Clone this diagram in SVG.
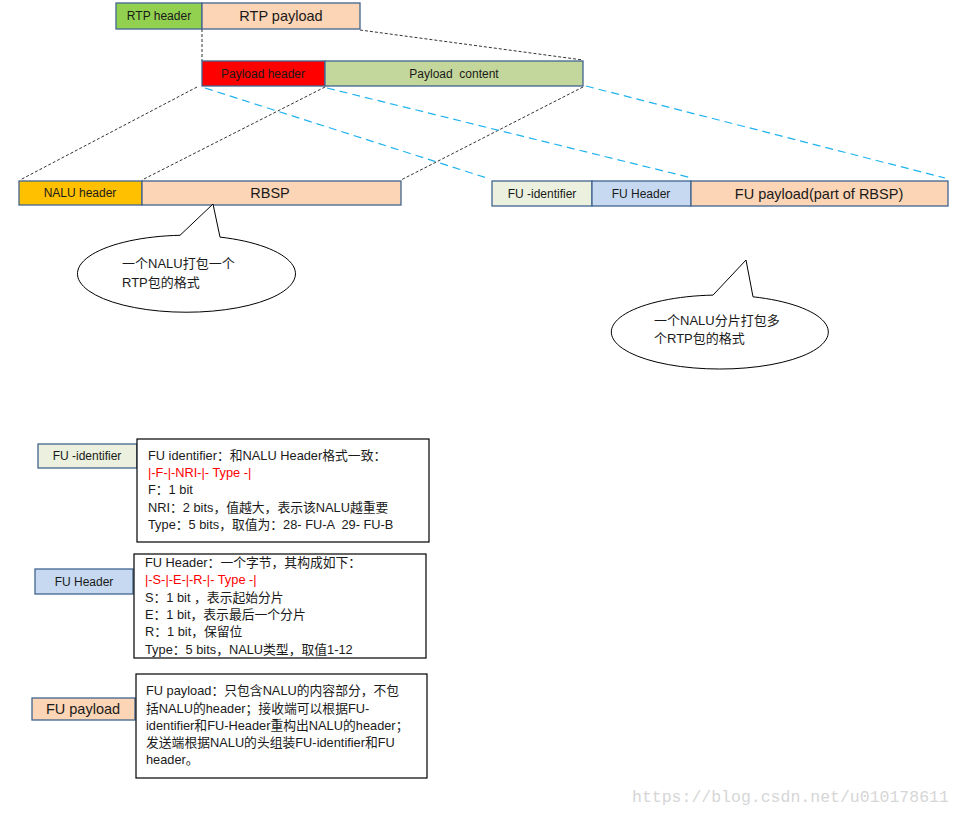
<svg xmlns="http://www.w3.org/2000/svg" width="962" height="816" viewBox="0 0 962 816">
<style>
.bx{stroke:#41658F;stroke-width:1.3}
.t{font-family:"Liberation Sans","Noto Sans CJK SC",sans-serif;fill:#1a1a1a}
.c{text-anchor:middle}
.s12{font-size:12px}
.n{font-size:12.8px;white-space:pre}
.s15{font-size:14.5px}
.red{fill:#FF0000}
.dk{fill:none;stroke:#333;stroke-width:1;stroke-dasharray:3,2}
.bl{fill:none;stroke:#1FB3EE;stroke-width:1.2;stroke-dasharray:8,5}
.note{fill:#fff;stroke:#000;stroke-width:1.2}
.call{fill:#fff;stroke:#000;stroke-width:1}
</style>
<rect width="962" height="816" fill="#fff"/>
<g id="connectors">
<line class="dk" x1="202" y1="29" x2="202" y2="61"/>
<line class="dk" x1="360" y1="30" x2="583" y2="60"/>
<line class="dk" x1="197" y1="87" x2="20" y2="180"/>
<line class="dk" x1="325" y1="87" x2="142" y2="180"/>
<line class="dk" x1="583" y1="87" x2="401" y2="180"/>
<line class="bl" x1="205" y1="88" x2="490" y2="179"/>
<line class="bl" x1="327" y1="88" x2="692" y2="178"/>
<line class="bl" x1="586" y1="86" x2="945" y2="178"/>
</g>
<g id="rtp">
<rect class="bx" x="116" y="3" width="86" height="26" fill="#92D050"/>
<text class="t c s12" x="159" y="20">RTP header</text>
<rect class="bx" x="202" y="3" width="158" height="26" fill="#FBD5B5"/>
<text class="t c s15" x="281" y="21">RTP payload</text>
</g>
<g id="payload">
<rect class="bx" x="202" y="61" width="123" height="25" fill="#FF0000"/>
<text class="t c s12" x="263" y="78">Payload header</text>
<rect class="bx" x="325" y="61" width="258" height="25" fill="#C3D69B"/>
<text class="t c s12" x="454" y="78" style="white-space:pre">Payload  content</text>
</g>
<g id="nalu">
<rect class="bx" x="19" y="181" width="123" height="24" fill="#FFC000"/>
<text class="t c s12" x="80" y="197">NALU header</text>
<rect class="bx" x="142" y="181" width="259" height="24" fill="#FBD5B5"/>
<text class="t c s15" x="270" y="198">RBSP</text>
</g>
<g id="fu-row">
<rect class="bx" x="492" y="181" width="100" height="25" fill="#EBF1DE"/>
<text class="t c s12" x="542" y="198">FU -identifier</text>
<rect class="bx" x="592" y="181" width="99" height="25" fill="#C6D9F1"/>
<text class="t c s12" x="641" y="198">FU Header</text>
<rect class="bx" x="691" y="181" width="257" height="25" fill="#FBD5B5"/>
<text class="t c s15" x="819" y="199">FU payload(part of RBSP)</text>
</g>
<g id="callout1">
<path class="call" d="M180,235.3 L213,204 L220,237.1 A109,38.5 0 1,1 180,235.3 Z"/>
<text class="t" style="font-size:13px" x="122" y="268">一个NALU打包一个</text>
<text class="t" style="font-size:13px" x="122" y="287">RTP包的格式</text>
</g>
<g id="callout2">
<path class="call" d="M713,295.1 L746,260 L753,296.8 A108.5,37 0 1,1 713,295.1 Z"/>
<text class="t" style="font-size:13px" x="654" y="325">一个NALU分片打包多</text>
<text class="t" style="font-size:13px" x="654" y="343">个RTP包的格式</text>
</g>
<g id="fu-identifier-note">
<rect class="bx" x="38" y="444" width="99" height="24" fill="#EBF1DE"/>
<text class="t c s12" x="87" y="460">FU -identifier</text>
<rect class="note" x="137" y="439" width="292" height="103"/>
<text class="t n" x="148" y="460">FU identifier：和NALU Header格式一致：</text>
<text class="t n red" x="148" y="477">|-F-|-NRI-|- Type -|</text>
<text class="t n" x="148" y="494">F：1 bit</text>
<text class="t n" x="148" y="512">NRI：2 bits，值越大，表示该NALU越重要</text>
<text class="t n" x="148" y="529">Type：5 bits，取值为：28- FU-A  29- FU-B</text>
</g>
<g id="fu-header-note">
<rect class="bx" x="35" y="569" width="98" height="25" fill="#C6D9F1"/>
<text class="t c s12" x="84" y="586">FU Header</text>
<rect class="note" x="134" y="554" width="292" height="104"/>
<text class="t n" x="145" y="567">FU Header：一个字节，其构成如下：</text>
<text class="t n red" x="145" y="584">|-S-|-E-|-R-|- Type -|</text>
<text class="t n" x="145" y="602">S：1 bit ，表示起始分片</text>
<text class="t n" x="145" y="619">E：1 bit，表示最后一个分片</text>
<text class="t n" x="145" y="636">R：1 bit，保留位</text>
<text class="t n" x="145" y="654">Type：5 bits，NALU类型，取值1-12</text>
</g>
<g id="fu-payload-note">
<rect class="bx" x="32" y="698" width="103" height="22" fill="#FBD5B5"/>
<text class="t c s15" x="83" y="714">FU payload</text>
<rect class="note" x="136" y="674" width="291" height="104"/>
<text class="t n" x="146" y="695">FU payload：只包含NALU的内容部分，不包</text>
<text class="t n" x="146" y="713">括NALU的header；接收端可以根据FU-</text>
<text class="t n" x="146" y="730">identifier和FU-Header重构出NALU的header；</text>
<text class="t n" x="146" y="747">发送端根据NALU的头组装FU-identifier和FU</text>
<text class="t n" x="146" y="764">header。</text>
</g>
<text x="632" y="802" style="font-family:'Liberation Mono','DejaVu Sans Mono',monospace;font-size:16.5px;fill:#d6d6d6">https://blog.csdn.net/u010178611</text>
</svg>
